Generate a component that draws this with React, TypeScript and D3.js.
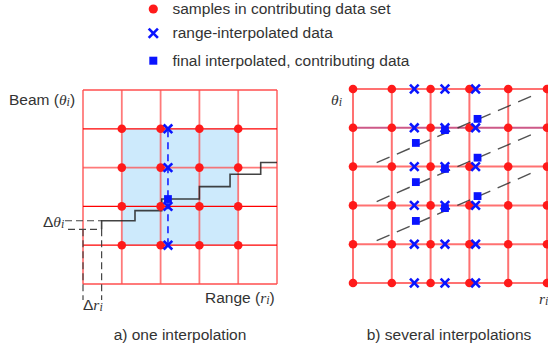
import React from "react";
import * as d3 from "d3";

// ---------- data (grid units) ----------
const legendItems = [
  { kind: "dot", label: "samples in contributing data set" },
  { kind: "cross", label: "range-interpolated data" },
  { kind: "square", label: "final interpolated, contributing data" },
];

// left panel (one interpolation)
const leftGridIdx = [0, 1, 2, 3, 4, 5];
const leftDotCols = [1, 2, 3, 4];
const leftDotRows = [1, 2, 3, 4];
const leftCrossCol = 2.19;
const leftCrossRows = [1, 2, 3, 4];
const leftSquare = [2.19, 2.19];
const leftShade = [1, 4, 1, 4]; // x0,x1,y0,y1
const stepX = [0.48, 0.48, 1.34, 2.03, 3.0, 3.79, 4.58, 5.0];
const stepY = [1.41, 1.63, 1.89, 2.19, 2.51, 2.83, 3.13, 3.13];
const deltaTheta = [1.41, 1.63];
const deltaR = [0, 0.48];

// right panel (several interpolations)
const rightGridIdx = [0, 1, 2, 3, 4, 5];
const rightCrossCols = [1.58, 2.37, 3.16];
const rightCrossRows = [0, 1, 2, 3, 4, 5];
const rightSquaresX = [1.62, 1.62, 1.62, 2.37, 2.37, 2.37, 3.21, 3.21, 3.21];
const rightSquaresY = [3.61, 2.6, 1.6, 3.94, 2.94, 1.93, 4.23, 3.23, 2.24];
const diagX = [0.61, 4.73];
const diagY0 = [3.1, 2.1, 1.09];
const diagY1 = [4.87, 3.88, 2.89];

const SANS = "'Liberation Sans', Arial, sans-serif";
const SERIF = "'Liberation Serif', 'DejaVu Serif', serif";
const RED = "#ff1a1a";
const BLUE = "#0a14ff";
const TXT = "#333";

const Cross = ({ x, y, s = 4.3 }: { x: number; y: number; s?: number }) => (
  <g stroke={BLUE} strokeWidth={2.6}>
    <line x1={x - s} y1={y - s} x2={x + s} y2={y + s} />
    <line x1={x - s} y1={y + s} x2={x + s} y2={y - s} />
  </g>
);
const Square = ({ x, y, s = 7.8 }: { x: number; y: number; s?: number }) => (
  <rect x={x - s / 2} y={y - s / 2} width={s} height={s} fill={BLUE} />
);
const Dot = ({ x, y, r = 4.3 }: { x: number; y: number; r?: number }) => (
  <circle cx={x} cy={y} r={r} fill={RED} />
);

export default function App() {
  const lx = d3.scaleLinear().domain([0, 5]).range([83, 277]);
  const ly = d3.scaleLinear().domain([0, 5]).range([284, 90]);
  const rx = d3.scaleLinear().domain([0, 5]).range([353, 547]);
  const ry = d3.scaleLinear().domain([0, 5]).range([283, 89]);

  const stepLine = d3
    .line<number>()
    .x((_, i) => lx(stepX[i]))
    .y((_, i) => ly(stepY[i]))
    .curve(d3.curveStepAfter);

  return (
    <svg
      width={548}
      height={354}
      style={{ position: "absolute", left: 0, top: 0, background: "#fff" }}
    >
      {/* legend */}
      {legendItems.map((d, i) => {
        const cy = [9, 33.3, 60.7][i];
        const by = [13.5, 38, 65.5][i];
        return (
          <g key={d.label}>
            {d.kind === "dot" && <Dot x={153.3} y={cy} r={4.6} />}
            {d.kind === "cross" && <Cross x={153.3} y={cy} s={4.6} />}
            {d.kind === "square" && <Square x={153.3} y={cy} s={8} />}
            <text x={172.5} y={by} fontFamily={SANS} fontSize={15.5} fill={TXT}>
              {d.label}
            </text>
          </g>
        );
      })}

      {/* ---------- left panel ---------- */}
      <rect
        x={lx(leftShade[0])}
        y={ly(leftShade[3])}
        width={lx(leftShade[1]) - lx(leftShade[0])}
        height={ly(leftShade[2]) - ly(leftShade[3])}
        fill="#cdeafc"
      />
      {leftGridIdx.map((i) => (
        <line
          key={"lv" + i}
          x1={lx(i)}
          x2={lx(i)}
          y1={ly(0)}
          y2={ly(5)}
          stroke="#ff4d4d"
          strokeOpacity={0.75}
          strokeWidth={1.8}
        />
      ))}
      {leftGridIdx.map((i) => {
        const inner = leftDotRows.includes(i) && i !== 3;
        return (
          <line
            key={"lh" + i}
            x1={lx(0)}
            x2={lx(5)}
            y1={ly(i)}
            y2={ly(i)}
            stroke={inner ? "#ff0000" : "#ff4d4d"}
            strokeOpacity={inner ? 1 : 0.75}
            strokeWidth={inner ? 1.2 : 1.8}
          />
        );
      })}
      {/* delta markers */}
      <g stroke="#444" strokeWidth={1.2} strokeDasharray="7,4" fill="none">
        <line x1={65} x2={lx(deltaR[1])} y1={ly(deltaTheta[1])} y2={ly(deltaTheta[1])} />
        <line x1={68} x2={lx(deltaR[1])} y1={ly(deltaTheta[0])} y2={ly(deltaTheta[0])} />
        <line x1={lx(deltaR[0])} x2={lx(deltaR[0])} y1={ly(deltaTheta[0])} y2={300} />
        <line x1={lx(deltaR[1])} x2={lx(deltaR[1])} y1={ly(deltaTheta[0])} y2={300} />
      </g>
      <path
        d={stepLine(stepX) || ""}
        fill="none"
        stroke="#222"
        strokeOpacity={0.85}
        strokeWidth={1.6}
      />
      {leftDotRows.map((r) =>
        leftDotCols.map((c) => <Dot key={`ld${r}-${c}`} x={lx(c)} y={ly(r)} />)
      )}
      <line
        x1={lx(leftCrossCol)}
        x2={lx(leftCrossCol)}
        y1={ly(leftCrossRows[0])}
        y2={ly(leftCrossRows[leftCrossRows.length - 1])}
        stroke={BLUE}
        strokeWidth={1.5}
        strokeDasharray="7,5"
      />
      {leftCrossRows.map((r) => (
        <Cross key={"lc" + r} x={lx(leftCrossCol)} y={ly(r)} />
      ))}
      <Square x={lx(leftSquare[0])} y={ly(leftSquare[1])} />

      {/* left labels */}
      <text x={9} y={105} fontFamily={SANS} fontSize={15.5} fill={TXT}>
        Beam (
        <tspan fontFamily={SERIF} fontStyle="italic">θ</tspan>
        <tspan fontFamily={SERIF} fontStyle="italic" fontSize={12} dy={1}>i</tspan>
        <tspan dy={-1}>)</tspan>
      </text>
      <text x={205} y={303} fontFamily={SANS} fontSize={15.5} fill={TXT}>
        Range (
        <tspan fontFamily={SERIF} fontStyle="italic">r</tspan>
        <tspan fontFamily={SERIF} fontStyle="italic" fontSize={12} dy={1}>i</tspan>
        <tspan dy={-1}>)</tspan>
      </text>
      <text x={43} y={227} fontFamily={SANS} fontSize={15.5} fill={TXT}>
        Δ
        <tspan fontFamily={SERIF} fontStyle="italic">θ</tspan>
        <tspan fontFamily={SERIF} fontStyle="italic" fontSize={12} dy={1}>i</tspan>
      </text>
      <text x={83} y={310} fontFamily={SANS} fontSize={15.5} fill={TXT}>
        Δ
        <tspan fontFamily={SERIF} fontStyle="italic">r</tspan>
        <tspan fontFamily={SERIF} fontStyle="italic" fontSize={12} dy={1}>i</tspan>
      </text>
      <text x={180} y={340} textAnchor="middle" fontFamily={SANS} fontSize={15.5} fill={TXT}>
        a) one interpolation
      </text>

      {/* ---------- right panel ---------- */}
      {rightGridIdx.map((i) => (
        <line
          key={"rv" + i}
          x1={rx(i)}
          x2={rx(i)}
          y1={ry(0)}
          y2={ry(5)}
          stroke="#ff4d4d"
          strokeOpacity={0.8}
          strokeWidth={2}
        />
      ))}
      {rightGridIdx.map((i) => (
        <line
          key={"rh" + i}
          x1={rx(0)}
          x2={rx(5)}
          y1={ry(i)}
          y2={ry(i)}
          stroke={i === 4 ? "#c0306a" : "#ff4d4d"}
          strokeOpacity={0.8}
          strokeWidth={2}
        />
      ))}
      {diagY0.map((y0, i) => (
        <line
          key={"dg" + i}
          x1={rx(diagX[0])}
          y1={ry(y0)}
          x2={rx(diagX[1])}
          y2={ry(diagY1[i])}
          stroke="#333"
          strokeOpacity={0.85}
          strokeWidth={1.4}
          strokeDasharray="14,8"
        />
      ))}
      {rightGridIdx.map((r) =>
        rightGridIdx.map((c) => <Dot key={`rd${r}-${c}`} x={rx(c)} y={ry(r)} />)
      )}
      {rightCrossRows.map((r) =>
        rightCrossCols.map((c) => <Cross key={`rc${r}-${c}`} x={rx(c)} y={ry(r)} />)
      )}
      {rightSquaresX.map((x, i) => (
        <Square key={"rs" + i} x={rx(x)} y={ry(rightSquaresY[i])} />
      ))}
      <text x={331} y={105} fontFamily={SERIF} fontSize={15.5} fill={TXT} fontStyle="italic">
        θ<tspan fontSize={12} dy={1}>i</tspan>
      </text>
      <text x={539} y={304} fontFamily={SERIF} fontSize={15.5} fill={TXT} fontStyle="italic">
        r<tspan fontSize={12} dy={1}>i</tspan>
      </text>
      <text x={449} y={340} textAnchor="middle" fontFamily={SANS} fontSize={15.5} fill={TXT}>
        b) several interpolations
      </text>
    </svg>
  );
}
